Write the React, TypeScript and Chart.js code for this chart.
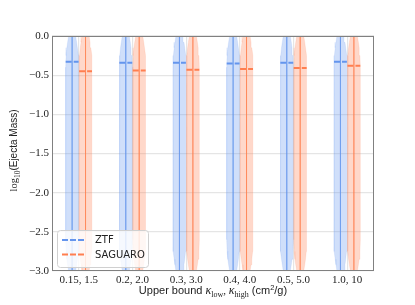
import React, { useEffect, useRef } from 'react';
import { Chart, registerables } from 'chart.js';
Chart.register(...registerables);

// ---- data ----
const CATEGORIES = ['0.15, 1.5', '0.2, 2.0', '0.3, 3.0', '0.4, 4.0', '0.5, 5.0', '1.0, 10'];
const SERIES = ['ZTF', 'SAGUARO'];
const ZTF_MEDIAN = [-0.33, -0.34, -0.34, -0.35, -0.34, -0.33];
const SAGUARO_MEDIAN = [-0.45, -0.44, -0.43, -0.42, -0.41, -0.38];
// violin outline (shared shape): y levels and relative half-widths
const PROFILE_Y = [0.35, 0.25, 0.15, 0.08, 0.0, -0.08, -0.15, -0.25, -0.4, -2.6, -2.75, -2.85, -2.92, -3.0, -3.08, -3.15, -3.25, -3.35];
const PROFILE_W = [0.0, 0.08, 0.25, 0.4, 0.55, 0.7, 0.82, 0.94, 1.0, 1.0, 0.94, 0.82, 0.7, 0.55, 0.4, 0.25, 0.08, 0.0];
const Y_TICKS = [0, -0.5, -1.0, -1.5, -2.0, -2.5, -3.0];

// ---- styles ----
const COLORS = ['#6495ED', '#FF7F50'];
const RGB = ['100,149,237', '255,127,80'];
const OFFSETS = [-0.125, 0.125];
const HALF = 0.12;
const SERIF = "'Liberation Serif', 'DejaVu Serif', serif";
const SANS = "'Liberation Sans', 'DejaVu Sans', sans-serif";
const LEGEND_SANS = "'DejaVu Sans', sans-serif";
const MEDIANS = [ZTF_MEDIAN, SAGUARO_MEDIAN];

function buildDatasets() {
  const ds: any[] = [];
  SERIES.forEach((name, s) => {
    CATEGORIES.forEach((_, i) => {
      const c = i + OFFSETS[s];
      const left = PROFILE_Y.map((y, k) => ({ x: c - HALF * PROFILE_W[k], y }));
      const right = PROFILE_Y.map((y, k) => ({ x: c + HALF * PROFILE_W[k], y })).reverse();
      ds.push({
        type: 'line', label: name + ' violin', data: [...left, ...right],
        fill: 'shape', backgroundColor: `rgba(${RGB[s]},0.3)`, borderColor: `rgba(${RGB[s]},0.12)`,
        borderWidth: 1, pointRadius: 0, tension: 0, order: 3,
      });
      ds.push({
        type: 'line', label: name + ' bar',
        data: [{ x: c, y: PROFILE_Y[0] }, { x: c, y: PROFILE_Y[PROFILE_Y.length - 1] }],
        fill: false, borderColor: `rgba(${RGB[s]},0.5)`, borderWidth: 1, pointRadius: 0, order: 2,
      });
      ds.push({
        type: 'line', label: name,
        data: [{ x: c - HALF, y: MEDIANS[s][i] }, { x: c + HALF, y: MEDIANS[s][i] }],
        fill: false, borderColor: COLORS[s], borderWidth: 2, borderDash: [6, 2],
        pointRadius: 0, order: 1,
      });
    });
  });
  return ds;
}

type Part = { t: string; font: string; dy?: number };
function drawRich(ctx: CanvasRenderingContext2D, parts: Part[], cx: number, cy: number) {
  let total = 0;
  parts.forEach((p) => { ctx.font = p.font; total += ctx.measureText(p.t).width; });
  let x = cx - total / 2;
  ctx.textAlign = 'left';
  ctx.textBaseline = 'alphabetic';
  parts.forEach((p) => {
    ctx.font = p.font;
    ctx.fillText(p.t, x, cy + (p.dy || 0));
    x += ctx.measureText(p.t).width;
  });
}

const decorPlugin = {
  id: 'decor',
  afterDatasetsDraw(chart: any) {
    const { ctx, chartArea: a } = chart;
    ctx.save();
    ctx.strokeStyle = '#808080';
    ctx.lineWidth = 1;
    ctx.strokeRect(a.left + 0.5, a.top + 0.5, a.right - a.left - 1, a.bottom - a.top - 1);
    ctx.restore();
  },
  afterDraw(chart: any) {
    const { ctx, chartArea: a } = chart;
    ctx.save();
    // legend
    const bx = a.left + 5, by = a.bottom - 41, bw = 91, bh = 37;
    ctx.fillStyle = 'rgba(255,255,255,0.8)';
    ctx.strokeStyle = '#d0d0d0';
    ctx.lineWidth = 1;
    ctx.beginPath();
    (ctx as any).roundRect(bx + 0.5, by + 0.5, bw, bh, 3);
    ctx.fill();
    ctx.stroke();
    SERIES.forEach((name, s) => {
      const y = by + 10 + s * 14.5;
      ctx.strokeStyle = COLORS[s];
      ctx.lineWidth = 2;
      ctx.setLineDash([6, 2]);
      ctx.beginPath();
      ctx.moveTo(bx + 5, y);
      ctx.lineTo(bx + 29, y);
      ctx.stroke();
      ctx.setLineDash([]);
      ctx.fillStyle = '#222';
      ctx.font = `10px ${LEGEND_SANS}`;
      ctx.textAlign = 'left';
      ctx.textBaseline = 'middle';
      ctx.fillText(name, bx + 38, y + 0.5);
    });
    // axis titles
    ctx.fillStyle = '#222';
    const cx = (a.left + a.right) / 2;
    drawRich(ctx, [
      { t: 'Upper bound ', font: `11px ${SANS}` },
      { t: 'κ', font: `italic 12px ${SERIF}` },
      { t: 'low', font: `8px ${SERIF}`, dy: 2.5 },
      { t: ', ', font: `11px ${SERIF}` },
      { t: 'κ', font: `italic 12px ${SERIF}` },
      { t: 'high', font: `8px ${SERIF}`, dy: 2.5 },
      { t: ' (cm', font: `11px ${SANS}` },
      { t: '2', font: `7.5px ${SANS}`, dy: -4 },
      { t: '/g)', font: `11px ${SANS}` },
    ], cx, 294);
    ctx.translate(13, (a.top + a.bottom) / 2 - 3);
    ctx.rotate(-Math.PI / 2);
    drawRich(ctx, [
      { t: 'log', font: `10.5px ${SERIF}` },
      { t: '10', font: `7.5px ${SERIF}`, dy: 2.5 },
      { t: '(Ejecta Mass)', font: `10px ${SANS}` },
    ], 0, 4);
    ctx.restore();
  },
};

export default function App() {
  const ref = useRef<HTMLCanvasElement>(null);
  useEffect(() => {
    const chart = new Chart(ref.current as HTMLCanvasElement, {
      type: 'line',
      data: { datasets: buildDatasets() },
      options: {
        animation: false,
        responsive: false,
        devicePixelRatio: 1,
        layout: { padding: { left: 0, top: 36, right: 41, bottom: 0 } },
        plugins: { legend: { display: false }, tooltip: { enabled: false } },
        scales: {
          x: {
            type: 'linear', min: -0.5, max: 5.5,
            afterBuildTicks: (scale: any) => { scale.ticks = CATEGORIES.map((_, i) => ({ value: i })); },
            afterFit: (scale: any) => { scale.height = 34; },
            ticks: {
              autoSkip: false, maxRotation: 0, padding: 3, color: '#222',
              font: { family: SERIF, size: 11 },
              callback: (v: any) => CATEGORIES[Math.round(Number(v))] ?? '',
            },
            grid: { color: 'rgba(0,0,0,0.1)', lineWidth: 1.2, drawTicks: false },
            border: { display: false },
          },
          y: {
            type: 'linear', min: -3, max: 0,
            afterBuildTicks: (scale: any) => { scale.ticks = Y_TICKS.map((v) => ({ value: v })); },
            afterFit: (scale: any) => { scale.width = 52; },
            ticks: {
              padding: 3, color: '#222',
              font: { family: SERIF, size: 11 },
              callback: (v: any) => Number(v).toFixed(1).replace('-', '\u2212'),
            },
            grid: { color: 'rgba(0,0,0,0.1)', lineWidth: 1.2, drawTicks: false },
            border: { display: false },
          },
        },
      },
      plugins: [decorPlugin],
    } as any);
    return () => chart.destroy();
  }, []);
  return (
    <div style={{ position: 'absolute', left: 0, top: 0, width: 415, height: 305 }}>
      <canvas ref={ref} width={415} height={305} style={{ display: 'block' }} />
    </div>
  );
}
